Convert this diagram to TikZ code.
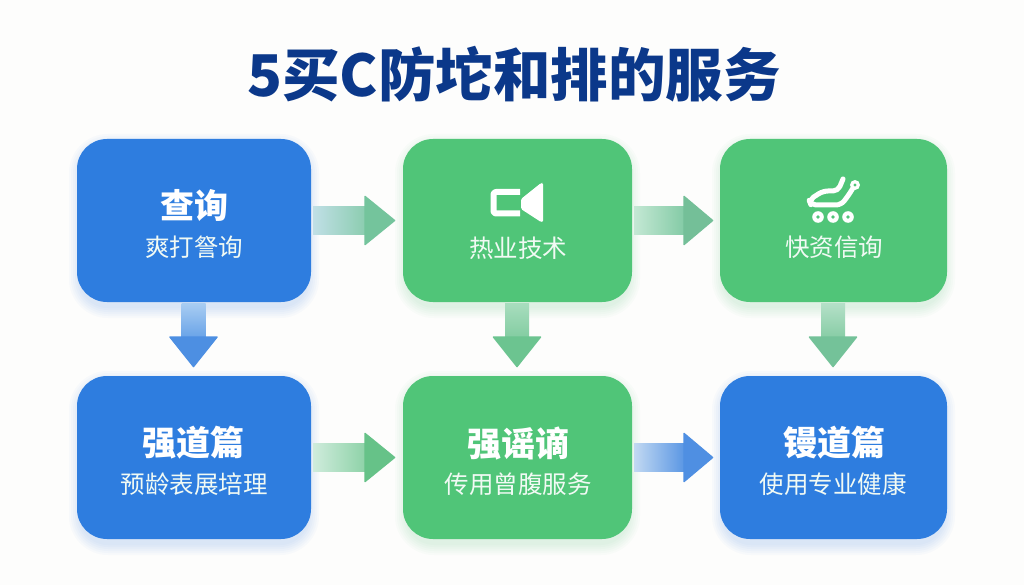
\documentclass[tikz,border=0pt]{standalone}
\usepackage{fontspec}
\setmainfont{Noto Sans CJK SC}
\usetikzlibrary{calc}
\definecolor{bgc}{HTML}{FDFDFC}
\definecolor{titlec}{HTML}{0B388A}
\definecolor{bluebox}{HTML}{2E7DDF}
\definecolor{greenbox}{HTML}{50C578}
\newcommand{\softshadow}[2]{%
  \foreach \g in {11,9,7,5,3,1}{%
    \fill[#2,opacity=0.026,rounded corners=28pt+\g pt]
      ($(#1.north west)+(3-\g,6-\g)$) rectangle ($(#1.south east)+(\g-3,\g+5)$);
  }%
}
% from, to, start gap, base gap, tip gap, shaft colour 1, shaft colour 2, head colour
\newcommand{\harrow}[8]{%
  \definecolor{arcA}{HTML}{#6}\definecolor{arcB}{HTML}{#7}\definecolor{arcH}{HTML}{#8}%
  \coordinate (arS) at ($(#1.east)+(#3,0)$);
  \coordinate (arB) at ($(#2.west)+(-#4,0)$);
  \coordinate (arT) at ($(#2.west)+(-#5,0)$);
  \shade[left color=arcA,right color=arcB]
    ($(arS)+(0,-14)$) rectangle ($(arB)+(0,14)$);
  \fill[arcH,draw=arcH,line width=1.5pt,line join=round]
    ($(arB)+(0,-24)$) -- (arT) -- ($(arB)+(0,24)$) -- cycle;
}
\newcommand{\varrow}[8]{%
  \definecolor{arcA}{HTML}{#6}\definecolor{arcB}{HTML}{#7}\definecolor{arcH}{HTML}{#8}%
  \coordinate (arS) at ($(#1.south)+(-0.5,#3)$);
  \coordinate (arB) at ($(#2.north)+(-0.5,-#4)$);
  \coordinate (arT) at ($(#2.north)+(-0.5,-#5)$);
  \shade[top color=arcA,bottom color=arcB]
    ($(arS)+(-12,0)$) rectangle ($(arB)+(12,0)$);
  \fill[arcH,draw=arcH,line width=1.5pt,line join=round]
    ($(arB)+(-23.5,0)$) -- (arT) -- ($(arB)+(23.5,0)$) -- cycle;
}
\tikzset{
  x=1pt,y=-1pt,
  cardbox/.style={rounded corners=30pt,minimum height=163pt,inner sep=0pt,outer sep=0pt},
  bluecard/.style={cardbox,fill=bluebox},
  greencard/.style={cardbox,fill=greenbox},
  heading/.style={text=white,font=\fontsize{34}{36}\selectfont\bfseries,inner sep=0pt},
  subtext/.style={text=white!92!greenbox,font=\fontsize{24.5}{28}\selectfont,inner sep=0pt},
  iconline/.style={draw=white,line cap=round,line join=round},
}
\begin{document}
\begin{tikzpicture}
\useasboundingbox (0,0) rectangle (1024,585);
\fill[bgc] (0,0) rectangle (1024,585);
\node[text=titlec,font=\fontsize{57.5}{62}\selectfont\bfseries,inner sep=0pt] (title) at (514,74) {5买C防坨和排的服务};

\coordinate (pa) at (194,220.5);
\coordinate (pb) at (517.5,220.5);
\coordinate (pc) at (833.5,220.5);
\coordinate (pd) at (194,457.5);
\coordinate (pe) at (517.5,457.5);
\coordinate (pf) at (833.5,457.5);
\path node[cardbox,minimum width=234pt] (boxA) at (pa) {};
\path node[cardbox,minimum width=229pt] (boxB) at (pb) {};
\path node[cardbox,minimum width=227pt] (boxC) at (pc) {};
\path node[cardbox,minimum width=234pt] (boxD) at (pd) {};
\path node[cardbox,minimum width=229pt] (boxE) at (pe) {};
\path node[cardbox,minimum width=227pt] (boxF) at (pf) {};

\softshadow{boxA}{bluebox}\softshadow{boxD}{bluebox}\softshadow{boxF}{bluebox}
\softshadow{boxB}{greenbox}\softshadow{boxC}{greenbox}\softshadow{boxE}{greenbox}

\node[bluecard,minimum width=234pt] at (pa) {};
\node[greencard,minimum width=229pt] at (pb) {};
\node[greencard,minimum width=227pt] at (pc) {};
\node[bluecard,minimum width=234pt] at (pd) {};
\node[greencard,minimum width=229pt] at (pe) {};
\node[bluecard,minimum width=227pt] at (pf) {};

\harrow{boxA}{boxB}{2}{38}{8.5}{C0DFE6}{8CCDB0}{74C49C}
\harrow{boxB}{boxC}{2}{36}{7.5}{C4E8D4}{84CBA6}{74BF98}
\harrow{boxD}{boxE}{2}{38}{8.5}{CFECDC}{8ED2A8}{66C288}
\harrow{boxE}{boxF}{2}{36}{7.5}{C2D9F2}{5B97E4}{4F8FE2}
\varrow{boxA}{boxD}{1}{39}{9.5}{A9CDF2}{6AA4E8}{4D8FE2}
\varrow{boxB}{boxE}{1}{39}{9.5}{A8DDBE}{84CDA2}{6CC490}
\varrow{boxC}{boxF}{1}{39}{9.5}{B5E0C8}{88CDA6}{74C299}

\node[heading] (headA) at (194,205) {查询};
\node[subtext] (subA) at (194,247) {爽打詧询};
\node[subtext] (subB) at (518,248) {热业技术};
\node[subtext] (subC) at (834,247) {快资信询};
\node[heading] (headD) at (193,443) {强道篇};
\node[subtext] (subD) at (194,484) {预龄表展培理};
\node[heading] (headE) at (518,443) {强谣谪};
\node[subtext] (subE) at (518,484) {传用曾腹服务};
\node[heading] (headF) at (834,443) {镘道篇};
\node[subtext] (subF) at (833,484) {使用专业健康};

% camera icon
\draw[iconline,line width=6pt,line cap=butt,rounded corners=2.5pt]
  (520,192) -- (493.5,192) -- (493.5,213.5) -- (520,213.5);
\fill[white,rounded corners=1.5pt] (521,199) -- (541,183) -- (543,183) -- (543,222) -- (541,222) -- (521,209) -- cycle;

% robot icon
\draw[iconline,line width=5pt,rounded corners=5pt]
  (843,179) -- (838,191) -- (823,191) -- (809,200) -- (811,205) -- (841,205) -- (848,196) -- (853,188);
\fill[white] (855,185) circle (5);
\fill[greenbox] (855,185) circle (1.6);
\foreach \wx in {818,833,848}{
  \fill[white] (\wx,217) circle (5.8);
  \fill[greenbox] (\wx,217) circle (1.9);
}
\end{tikzpicture}
\end{document}
